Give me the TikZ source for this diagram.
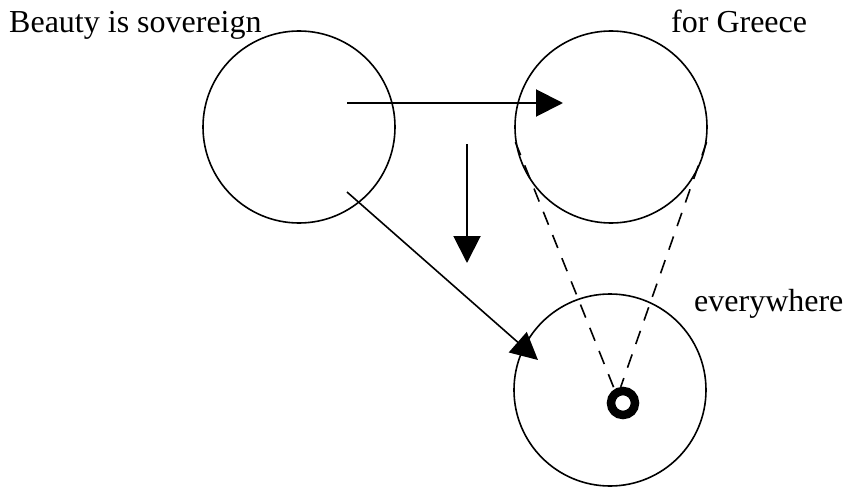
\documentclass[tikz,border=0pt]{standalone}
\usepackage{fontspec}
\setmainfont{Liberation Serif}
\usepackage{tikz}
\usetikzlibrary{arrows.meta, positioning, calc}

\begin{document}
\begin{tikzpicture}[
                x=1pt, y=-1pt,
                sphere/.style={draw, circle, line width=1.6pt, minimum size=192pt, inner sep=0pt},
                ring/.style={draw, circle, line width=8.5pt, minimum size=24pt, inner sep=0pt},
                lbl/.style={anchor=base west, inner sep=0pt, font=\fontsize{32}{38}\selectfont},
                push/.style={line width=2pt, -{Triangle[length=27pt, width=27pt]}},
                sight/.style={line width=1.6pt, dash pattern=on 14pt off 11pt},
            ]
                \useasboundingbox (0,0) rectangle (847,487);

                % Circles
                \node[sphere] (sov) at (299,127) {};
                \node[sphere] (greece) at (611,127) {};
                \node[sphere] (every) at (610,390) {};
                \node[ring] (dot) at (623,403) {};

                % Labels
                \node[lbl] (sovtext) at (9,33) {Beauty is sovereign};
                \node[lbl] (greecetext) at (671,33) {for Greece};
                \node[lbl] (everytext) at (694,311) {everywhere};

                % Free arrow ends
                \coordinate (a1s) at (347,103);
                \coordinate (a1e) at (563,103);
                \coordinate (a2s) at (467,144);
                \coordinate (a2e) at (467,263);
                \coordinate (a3s) at (347,192);
                \coordinate (a3e) at (538,360);

                % Arrows
                \draw[push] (a1s) -- (a1e);
                \draw[push] (a2s) -- (a2e);
                \draw[push, line width=1.6pt] (a3s) -- (a3e);

                % Dashed cone down to the point
                \draw[sight] (greece.189) -- (dot.122);
                \draw[sight] (greece.351) -- (dot.98);
            \end{tikzpicture}
\end{document}
